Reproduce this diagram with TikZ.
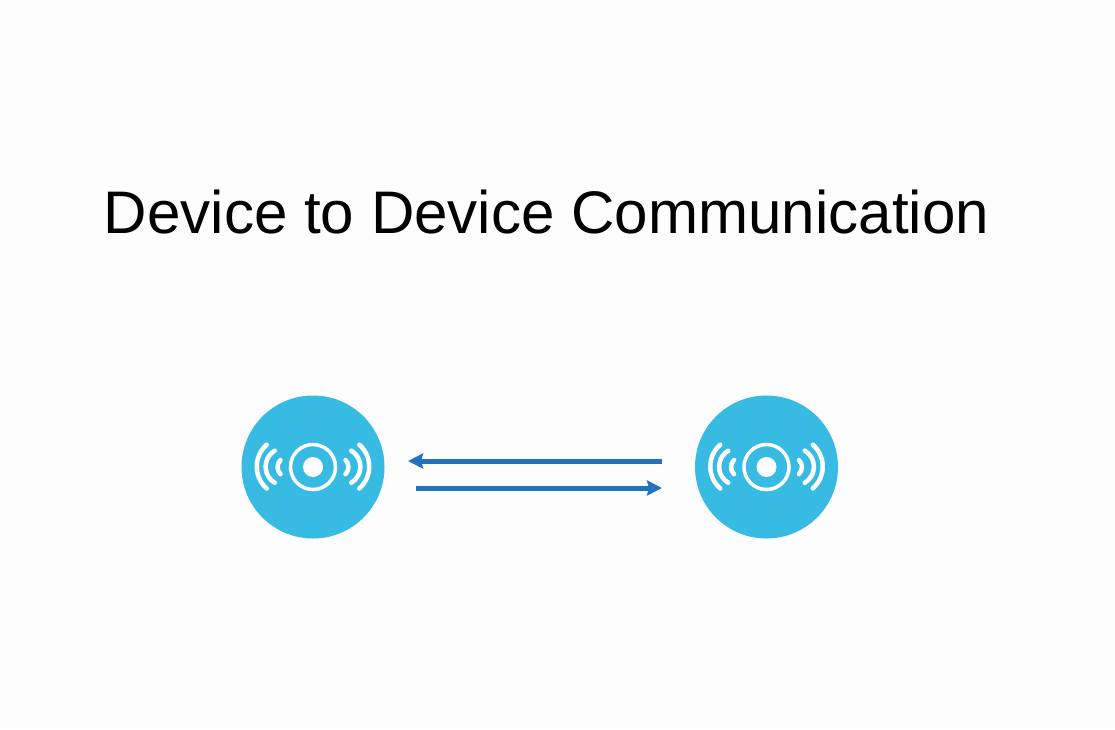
\documentclass[tikz,border=0pt]{standalone}
\usepackage{fontspec}
\setmainfont{Liberation Sans}
\usetikzlibrary{arrows.meta,calc}
\definecolor{discblue}{HTML}{38BBE3}
\definecolor{linkblue}{HTML}{2272BE}
\definecolor{paper}{HTML}{FDFDFD}
\tikzset{
	disc/.style={circle, fill=discblue, minimum size=1.43cm, inner sep=0},
	wave/.style={line width=0.045cm, color=white, line cap=round},
	link/.style={line width=0.05cm, color=linkblue, -{Stealth[length=0.15cm, width=0.15cm, inset=0.02cm]}},
}
\def\waves(#1){
	\draw[line width=0.035cm, color=white] (#1) circle (0.225);
	\draw[fill=white, draw=none] (#1) circle (0.1);
	\draw[wave] ($(#1)+(-0.325,0.07)$) arc (135:225:0.1);
	\draw[wave] ($(#1)+(-0.383,0.163)$) arc (121:239:0.187);
	\draw[wave] ($(#1)+(-0.463,0.223)$) arc (131:229:0.29);
	\draw[wave] ($(#1)+(0.325,0.07)$) arc (45:-45:0.1);
	\draw[wave] ($(#1)+(0.383,0.163)$) arc (59:-59:0.187);
	\draw[wave] ($(#1)+(0.463,0.223)$) arc (49:-49:0.29);
}

\begin{document}
\begin{tikzpicture}
	\useasboundingbox[fill=paper] (0, 0) rectangle (11.15, 7.29);

	\node (title) at (5.465, 5.17) {\fontsize{17.1pt}{20pt}\selectfont Device to Device Communication};

	\node[disc] (devleft) at (3.13, 2.62) {};
	\node[disc] (devright) at (7.665, 2.62) {};
	\waves(devleft)
	\waves(devright)

	\coordinate (backstart) at (6.62, 2.68);
	\coordinate (backend) at (4.08, 2.68);
	\coordinate (forthstart) at (4.16, 2.41);
	\coordinate (forthend) at (6.62, 2.41);
	\draw[link] (backstart) -- (backend);
	\draw[link] (forthstart) -- (forthend);
\end{tikzpicture}
\end{document}
